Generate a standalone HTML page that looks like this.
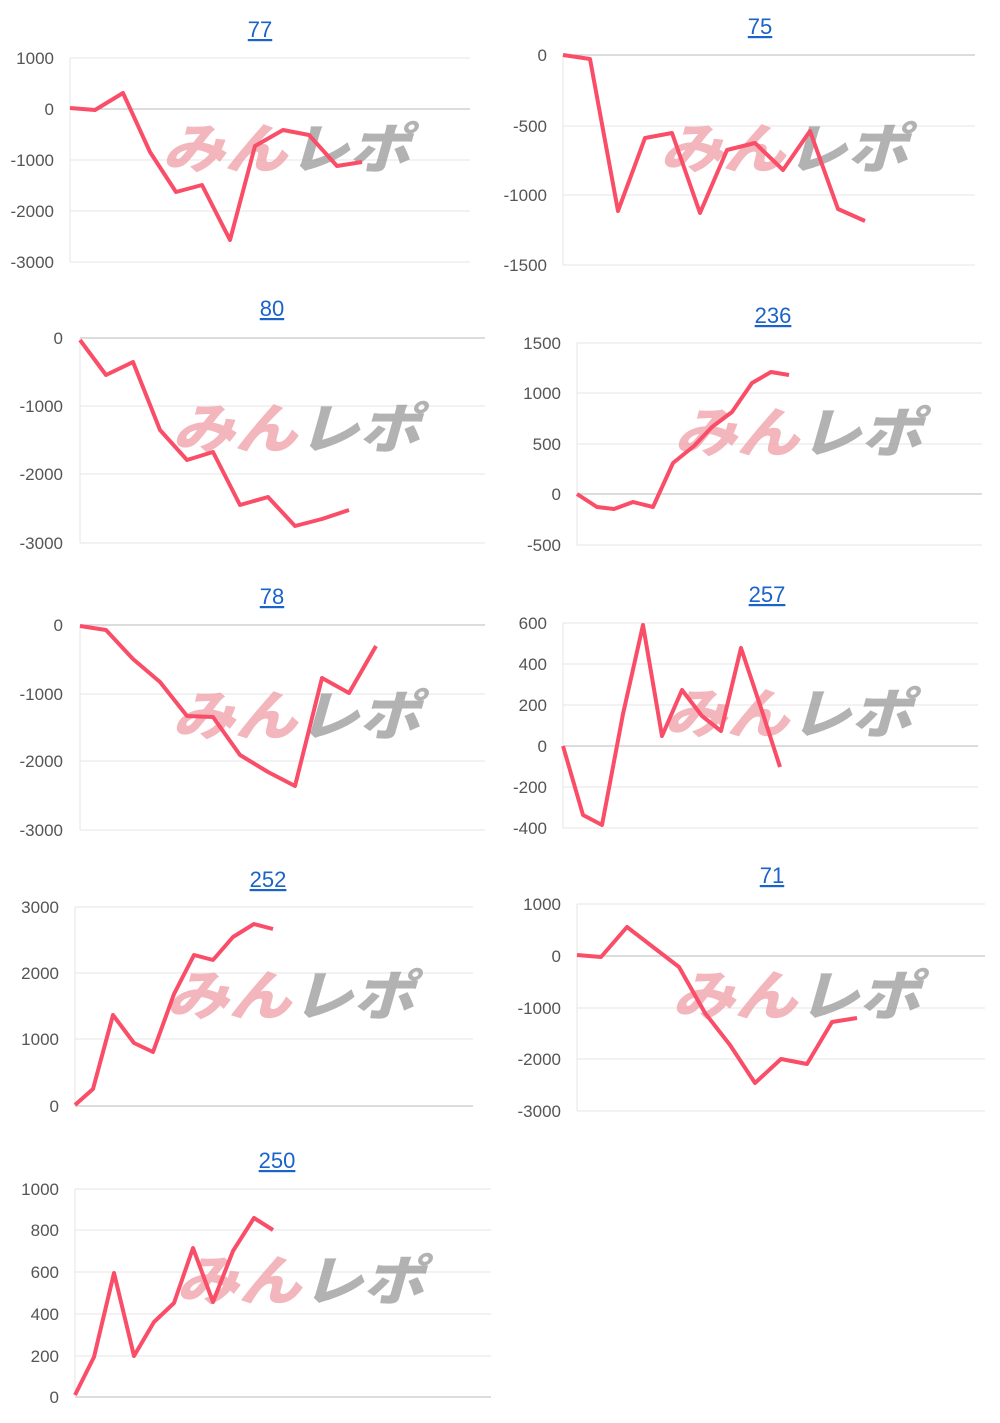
<!DOCTYPE html>
<html><head><meta charset="utf-8"><style>
html,body{margin:0;padding:0;background:#fff;}
svg{display:block;}
.t{font-family:"Liberation Sans",sans-serif;font-size:22px;fill:#1a63c9;text-decoration:underline;text-anchor:middle;}
.l{font-family:"Liberation Sans",sans-serif;font-size:17px;fill:#555;text-anchor:end;}
.g{stroke:#e6e6e6;stroke-width:1;}
.z{stroke:#c8c8c8;stroke-width:1.3;}
.s{fill:none;stroke:#fa4d68;stroke-width:4;stroke-linejoin:round;}
.wp{font-family:"Noto Sans CJK JP",sans-serif;font-weight:900;font-style:italic;font-size:54px;fill:#ee9ea6;opacity:.75;}
.wg{font-family:"Noto Sans CJK JP",sans-serif;font-weight:900;font-style:italic;font-size:54px;fill:#999;opacity:.75;}
</style></head><body>
<svg width="1000" height="1423" viewBox="0 0 1000 1423" xmlns="http://www.w3.org/2000/svg">
<!-- chart 1 -->
<text class="t" x="260" y="37">77</text>
<line class="g" x1="70" y1="58" x2="470" y2="58"/><line class="z" x1="70" y1="109" x2="470" y2="109"/><line class="g" x1="70" y1="160" x2="470" y2="160"/><line class="g" x1="70" y1="211" x2="470" y2="211"/><line class="g" x1="70" y1="262" x2="470" y2="262"/><line class="g" x1="70" y1="58" x2="70" y2="262"/>
<text class="l" x="54" y="64">1000</text><text class="l" x="54" y="115">0</text><text class="l" x="54" y="166">-1000</text><text class="l" x="54" y="217">-2000</text><text class="l" x="54" y="268">-3000</text>
<text class="wp" x="162" y="168" textLength="125" lengthAdjust="spacingAndGlyphs">みん</text><text class="wg" x="288" y="168" textLength="122" lengthAdjust="spacingAndGlyphs">レポ</text>
<polyline class="s" points="70,108 95,110 123,93 150,152 176,192 202,185 230,240 255,146 283,130 309,135 337,166 362,162"/>
<!-- chart 2 -->
<text class="t" x="760" y="34">75</text>
<line class="z" x1="563" y1="55" x2="975" y2="55"/><line class="g" x1="563" y1="126" x2="975" y2="126"/><line class="g" x1="563" y1="195" x2="975" y2="195"/><line class="g" x1="563" y1="265" x2="975" y2="265"/><line class="g" x1="563" y1="55" x2="563" y2="265"/>
<text class="l" x="547" y="61">0</text><text class="l" x="547" y="132">-500</text><text class="l" x="547" y="201">-1000</text><text class="l" x="547" y="271">-1500</text>
<text class="wp" x="660" y="168" textLength="125" lengthAdjust="spacingAndGlyphs">みん</text><text class="wg" x="786" y="168" textLength="122" lengthAdjust="spacingAndGlyphs">レポ</text>
<polyline class="s" points="563,55 590,59 618,211 645,138 672,133 700,213 727,150 755,143 783,170 810,131 838,209 865,221"/>
<!-- chart 3 -->
<text class="t" x="272" y="316">80</text>
<line class="z" x1="80" y1="338" x2="485" y2="338"/><line class="g" x1="80" y1="406" x2="485" y2="406"/><line class="g" x1="80" y1="474" x2="485" y2="474"/><line class="g" x1="80" y1="543" x2="485" y2="543"/><line class="g" x1="80" y1="338" x2="80" y2="543"/>
<text class="l" x="63" y="344">0</text><text class="l" x="63" y="412">-1000</text><text class="l" x="63" y="480">-2000</text><text class="l" x="63" y="549">-3000</text>
<text class="wp" x="172" y="448" textLength="125" lengthAdjust="spacingAndGlyphs">みん</text><text class="wg" x="298" y="448" textLength="122" lengthAdjust="spacingAndGlyphs">レポ</text>
<polyline class="s" points="80,340 106,375 133,362 160,430 187,460 213,452 240,505 268,497 295,526 322,519 349,510"/>
<!-- chart 4 -->
<text class="t" x="773" y="323">236</text>
<line class="g" x1="577" y1="343" x2="982" y2="343"/><line class="g" x1="577" y1="393" x2="982" y2="393"/><line class="g" x1="577" y1="444" x2="982" y2="444"/><line class="z" x1="577" y1="494" x2="982" y2="494"/><line class="g" x1="577" y1="545" x2="982" y2="545"/><line class="g" x1="577" y1="343" x2="577" y2="545"/>
<text class="l" x="561" y="349">1500</text><text class="l" x="561" y="399">1000</text><text class="l" x="561" y="450">500</text><text class="l" x="561" y="500">0</text><text class="l" x="561" y="551">-500</text>
<text class="wp" x="674" y="452" textLength="125" lengthAdjust="spacingAndGlyphs">みん</text><text class="wg" x="800" y="452" textLength="122" lengthAdjust="spacingAndGlyphs">レポ</text>
<polyline class="s" points="577,494 597,507 614,509 633,502 653,507 673,463 694,446 712,427 732,412 752,383 771,372 789,375"/>
<!-- chart 5 -->
<text class="t" x="272" y="604">78</text>
<line class="z" x1="80" y1="625" x2="485" y2="625"/><line class="g" x1="80" y1="694" x2="485" y2="694"/><line class="g" x1="80" y1="761" x2="485" y2="761"/><line class="g" x1="80" y1="830" x2="485" y2="830"/><line class="g" x1="80" y1="625" x2="80" y2="830"/>
<text class="l" x="63" y="631">0</text><text class="l" x="63" y="700">-1000</text><text class="l" x="63" y="767">-2000</text><text class="l" x="63" y="836">-3000</text>
<text class="wp" x="172" y="735" textLength="125" lengthAdjust="spacingAndGlyphs">みん</text><text class="wg" x="298" y="735" textLength="122" lengthAdjust="spacingAndGlyphs">レポ</text>
<polyline class="s" points="80,626 106,630 133,659 160,682 187,716 213,717 240,755 268,772 295,786 322,678 349,693 376,646"/>
<!-- chart 6 -->
<text class="t" x="767" y="602">257</text>
<line class="g" x1="563" y1="623" x2="978" y2="623"/><line class="g" x1="563" y1="664" x2="978" y2="664"/><line class="g" x1="563" y1="705" x2="978" y2="705"/><line class="z" x1="563" y1="746" x2="978" y2="746"/><line class="g" x1="563" y1="787" x2="978" y2="787"/><line class="g" x1="563" y1="828" x2="978" y2="828"/><line class="g" x1="563" y1="623" x2="563" y2="828"/>
<text class="l" x="547" y="629">600</text><text class="l" x="547" y="670">400</text><text class="l" x="547" y="711">200</text><text class="l" x="547" y="752">0</text><text class="l" x="547" y="793">-200</text><text class="l" x="547" y="834">-400</text>
<text class="wp" x="664" y="733" textLength="125" lengthAdjust="spacingAndGlyphs">みん</text><text class="wg" x="790" y="733" textLength="122" lengthAdjust="spacingAndGlyphs">レポ</text>
<polyline class="s" points="563,746 583,815 602,825 623,714 643,625 662,736 682,690 702,716 721,731 741,648 761,708 780,767"/>
<!-- chart 7 -->
<text class="t" x="268" y="887">252</text>
<line class="g" x1="75" y1="907" x2="473" y2="907"/><line class="g" x1="75" y1="973" x2="473" y2="973"/><line class="g" x1="75" y1="1039" x2="473" y2="1039"/><line class="z" x1="75" y1="1106" x2="473" y2="1106"/><line class="g" x1="75" y1="907" x2="75" y2="1106"/>
<text class="l" x="59" y="913">3000</text><text class="l" x="59" y="979">2000</text><text class="l" x="59" y="1045">1000</text><text class="l" x="59" y="1112">0</text>
<text class="wp" x="166" y="1015" textLength="125" lengthAdjust="spacingAndGlyphs">みん</text><text class="wg" x="292" y="1015" textLength="122" lengthAdjust="spacingAndGlyphs">レポ</text>
<polyline class="s" points="75,1105 93,1089 113,1015 134,1043 153,1052 174,994 194,955 213,960 233,937 254,924 273,929"/>
<!-- chart 8 -->
<text class="t" x="772" y="883">71</text>
<line class="g" x1="577" y1="904" x2="985" y2="904"/><line class="z" x1="577" y1="956" x2="985" y2="956"/><line class="g" x1="577" y1="1008" x2="985" y2="1008"/><line class="g" x1="577" y1="1059" x2="985" y2="1059"/><line class="g" x1="577" y1="1111" x2="985" y2="1111"/><line class="g" x1="577" y1="904" x2="577" y2="1111"/>
<text class="l" x="561" y="910">1000</text><text class="l" x="561" y="962">0</text><text class="l" x="561" y="1014">-1000</text><text class="l" x="561" y="1065">-2000</text><text class="l" x="561" y="1117">-3000</text>
<text class="wp" x="672" y="1015" textLength="125" lengthAdjust="spacingAndGlyphs">みん</text><text class="wg" x="798" y="1015" textLength="122" lengthAdjust="spacingAndGlyphs">レポ</text>
<polyline class="s" points="577,955 601,957 627,927 653,947 679,967 705,1013 730,1045 755,1083 781,1059 807,1064 832,1022 857,1018"/>
<!-- chart 9 -->
<text class="t" x="277" y="1168">250</text>
<line class="g" x1="75" y1="1189" x2="491" y2="1189"/><line class="g" x1="75" y1="1230" x2="491" y2="1230"/><line class="g" x1="75" y1="1272" x2="491" y2="1272"/><line class="g" x1="75" y1="1314" x2="491" y2="1314"/><line class="g" x1="75" y1="1356" x2="491" y2="1356"/><line class="z" x1="75" y1="1397" x2="491" y2="1397"/><line class="g" x1="75" y1="1189" x2="75" y2="1397"/>
<text class="l" x="59" y="1195">1000</text><text class="l" x="59" y="1236">800</text><text class="l" x="59" y="1278">600</text><text class="l" x="59" y="1320">400</text><text class="l" x="59" y="1362">200</text><text class="l" x="59" y="1403">0</text>
<text class="wp" x="176" y="1300" textLength="125" lengthAdjust="spacingAndGlyphs">みん</text><text class="wg" x="302" y="1300" textLength="122" lengthAdjust="spacingAndGlyphs">レポ</text>
<polyline class="s" points="75,1395 94,1357 114,1273 134,1356 154,1322 174,1303 193,1248 213,1302 233,1251 254,1218 273,1230"/>
</svg>
</body></html>
